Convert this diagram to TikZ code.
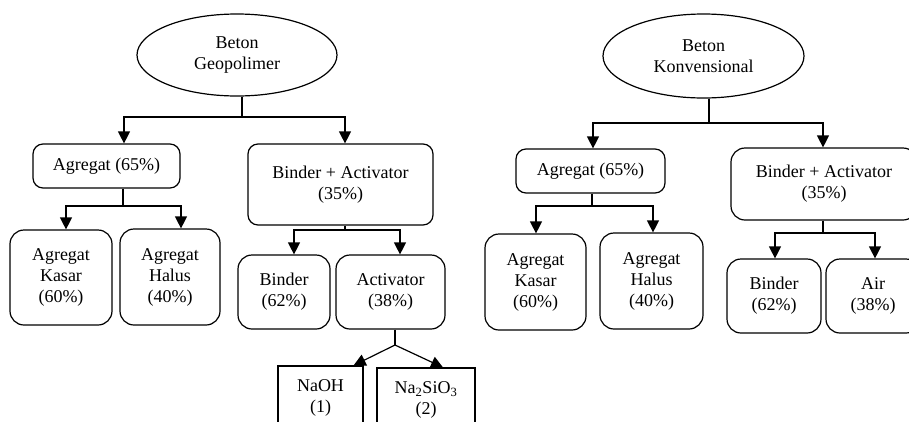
\documentclass[tikz,border=0pt]{standalone}
\usepackage{fontspec}
\setmainfont{Liberation Serif}
\usetikzlibrary{shapes.geometric,arrows.meta}

\begin{document}
\begin{tikzpicture}[x=1pt, y=-1pt, line width=1.2pt, >={Triangle[width=12pt,length=12pt]}]
\tikzstyle{every node}=[draw, align=center, inner sep=0pt, font=\fontsize{18}{21}\selectfont];
\tikzstyle{oval}=[ellipse, minimum width=200pt, minimum height=82pt];
\tikzstyle{rbox}=[rectangle, rounded corners=10pt];
\tikzstyle{sbox}=[rectangle];
\useasboundingbox (0,0) rectangle (909,421);
\clip (0,0) rectangle (909,421);
% Beton Geopolimer
\path (237,55) node[oval] (geo) {Beton\\Geopolimer};
\path (106.5,166) node[rbox, minimum width=147pt, minimum height=44pt] (ga) {Agregat (65\%)};
\path (340.5,184.5) node[rbox, minimum width=185pt, minimum height=81pt] (gb) {Binder + Activator\\(35\%)};
\path (61,277.5) node[rbox, rounded corners=14pt, minimum width=102pt, minimum height=95pt] (gk) {Agregat\\Kasar\\(60\%)};
\path (170,277) node[rbox, rounded corners=14pt, minimum width=100pt, minimum height=96pt] (gh) {Agregat\\Halus\\(40\%)};
\path (284,292) node[rbox, rounded corners=14pt, minimum width=92pt, minimum height=74pt] (gbi) {Binder\\(62\%)};
\path (390.5,292) node[rbox, rounded corners=14pt, minimum width=109pt, minimum height=74pt] (gac) {Activator\\(38\%)};
\path (320.5,398) node[sbox, minimum width=85pt, minimum height=64pt] (gn) {NaOH\\(1)};
\path (426,400) node[sbox, minimum width=98pt, minimum height=64pt] (gs) {Na\textsubscript{2}SiO\textsubscript{3}\\(2)};
% Beton Konvensional
\path (703.5,56) node[oval, minimum width=201pt, minimum height=84pt] (kon) {Beton\\Konvensional};
\path (590.5,171) node[rbox, minimum width=149pt, minimum height=44pt] (ka) {Agregat (65\%)};
\path (824,184) node[rbox, rounded corners=14pt, minimum width=186pt, minimum height=72pt] (kb) {Binder + Activator\\(35\%)};
\path (535.5,282) node[rbox, rounded corners=14pt, minimum width=101pt, minimum height=96pt] (kk) {Agregat\\Kasar\\(60\%)};
\path (651.5,281) node[rbox, rounded corners=14pt, minimum width=103pt, minimum height=96pt] (kh) {Agregat\\Halus\\(40\%)};
\path (774,296) node[rbox, rounded corners=14pt, minimum width=94pt, minimum height=74pt] (kbi) {Binder\\(62\%)};
\path (873,296) node[rbox, rounded corners=14pt, minimum width=94pt, minimum height=74pt] (kair) {Air\\(38\%)};
% forks
\coordinate (g0) at (242,117);
\coordinate (g1) at (123,206);
\coordinate (g2) at (345,230);
\coordinate (g3) at (395,345);
\coordinate (k0) at (709,123);
\coordinate (k1) at (592,206);
\coordinate (k2) at (823,233);
\draw
(geo.south -| g0) -- (g0) (ga.south -| g1) -- (g1)
(gb.south -| g2) -- (g2) (gac.south -| g3) -- (g3)
(kon.south -| k0) -- (k0) (ka.south -| k1) -- (k1)
(kb.south -| k2) -- (k2);
\draw[->] (g0) -| ([xshift=17.5pt]ga.north);
\draw[->] (g0) -| ([xshift=4.5pt]gb.north);
\draw[->] (g1) -| ([xshift=5pt]gk.north);
\draw[->] (g1) -| ([xshift=11pt]gh.north);
\draw[->] (g2) -| ([xshift=10pt]gbi.north);
\draw[->] (g2) -| ([xshift=9.5pt]gac.north);
\draw[->] (g3) -- ([xshift=-10pt]gn.north east);
\draw[->] (g3) -- ([xshift=17pt]gs.north);
\draw[->] (k0) -| ([xshift=2.5pt]ka.north);
\draw[->] (k0) -| ([xshift=-1pt]kb.north);
\draw[->] (k1) -| ([xshift=0.5pt]kk.north);
\draw[->] (k1) -| ([xshift=1.5pt]kh.north);
\draw[->] (k2) -| ([xshift=1pt]kbi.north);
\draw[->] (k2) -| ([xshift=2pt]kair.north);
\end{tikzpicture}
\end{document}
